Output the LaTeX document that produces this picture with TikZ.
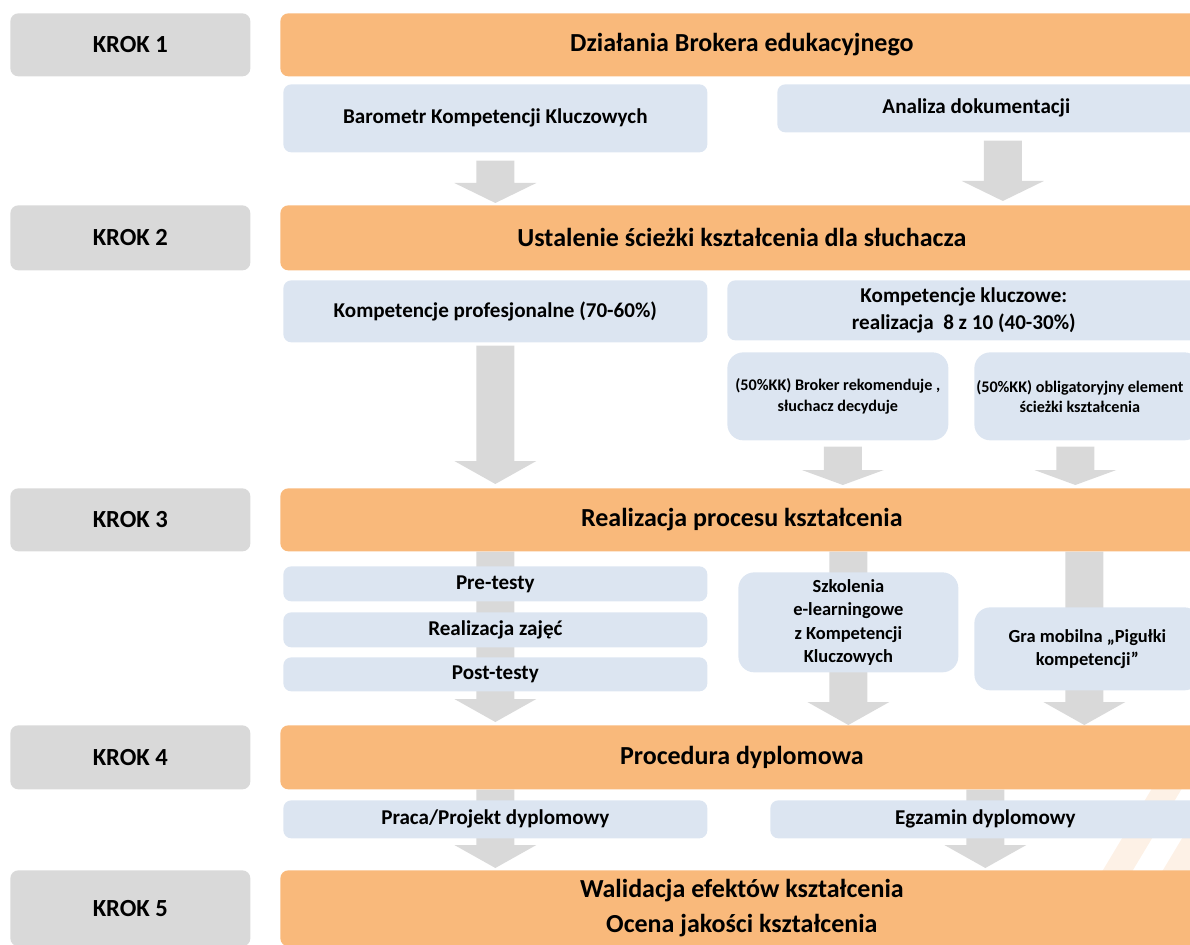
\documentclass[tikz,border=0pt]{standalone}
\usepackage{fontspec}
\setmainfont{Carlito}
\usetikzlibrary{calc}
\pgfdeclarelayer{edgelayer}
\pgfsetlayers{edgelayer,main}
\definecolor{krokgray}{HTML}{D9D9D9}
\definecolor{etaporange}{HTML}{F9B97B}
\definecolor{zadblue}{HTML}{DCE5F1}
\definecolor{strzalka}{HTML}{D9D9D9}
\definecolor{znak}{HTML}{FDF1E6}
\tikzset{
  w/.style={minimum width=#1*0.02cm},
  h/.style={minimum height=#1*0.02cm},
  krok/.style={anchor=north west, fill=krokgray, rounded corners=0.16cm, inner sep=0pt, font=\fontsize{14}{17}\selectfont\bfseries},
  etap/.style={anchor=north west, fill=etaporange, rounded corners=0.16cm, inner sep=0pt, align=center, font=\fontsize{14.8}{20}\selectfont\bfseries},
  zadanie/.style={anchor=north west, fill=zadblue, rounded corners=0.16cm, inner sep=0pt, align=center, font=\fontsize{12}{15}\selectfont\bfseries},
  opcja/.style={zadanie, rounded corners=0.32cm, font=\fontsize{9.2}{11.5}\selectfont\bfseries},
  wiecej/.style={font=\fontsize{10.5}{13.3}\selectfont\bfseries},
}
% szara strzalka blokowa: [dlugosc grotu]{poczatek}{koniec}
\newcommand{\strzalka}[3][0.46cm]{%
  \path [fill=strzalka] let \p1=(#2), \p2=(#3) in
    (\x1-0.38cm,\y1) -- (\x1+0.38cm,\y1) -- (\x1+0.38cm,\y2+#1) -- (\x1+0.82cm,\y2+#1)
    -- (\x1,\y2) -- (\x1-0.82cm,\y2+#1) -- (\x1-0.38cm,\y2+#1) -- cycle;}

\begin{document}
\begin{tikzpicture}[x=0.02cm, y=-0.02cm]
\useasboundingbox (0,0) rectangle (1190,945);
\clip (0,0) rectangle (1190,945);
% kroki
\node [krok, w=240, h=63] (krok1) at (10,13) {KROK 1};
\node [krok, w=240, h=65] (krok2) at (10,205) {KROK 2};
\node [krok, w=240, h=63] (krok3) at (10,488) {KROK 3};
\node [krok, w=240, h=64] (krok4) at (10,725) {KROK 4};
\node [krok, w=240, h=76] (krok5) at (10,870) {KROK 5};
% etapy
\node [etap, w=923, h=63] (broker) at (280,13) {Działania Brokera edukacyjnego};
\node [etap, w=923, h=65] (sciezka) at (280,205) {Ustalenie ścieżki kształcenia dla słuchacza};
\node [etap, w=923, h=63] (proces) at (280,488) {Realizacja procesu kształcenia};
\node [etap, w=923, h=64] (dyplom) at (280,725) {Procedura dyplomowa};
\node [etap, w=923, h=76] (walidacja) at (280,870) {Walidacja efektów kształcenia\\Ocena jakości kształcenia};
% zadania
\node [zadanie, w=424, h=68] (barometr) at (283,84) {Barometr Kompetencji Kluczowych};
\node [zadanie, w=423, h=48] (analiza) at (777,84) {\hspace*{-0.5cm}Analiza dokumentacji};
\node [zadanie, w=424, h=62] (profesj) at (283,280) {Kompetencje profesjonalne (70-60\%)};
\node [zadanie, w=473, h=60] (kluczowe) at (727,280) {Kompetencje kluczowe:\\realizacja~ 8 z 10 (40-30\%)};
\node [opcja, w=221, h=88] (rekom) at (727,352) {(50\%KK) Broker rekomenduje ,\\ słuchacz decyduje};
\node [opcja, w=226, h=88] (oblig) at (974,352) {\hspace*{-0.3cm}(50\%KK) obligatoryjny element\\\hspace*{-0.3cm}ścieżki kształcenia};
\node [zadanie, w=424, h=35] (pretesty) at (283,566) {Pre-testy};
\node [zadanie, w=424, h=35] (zajecia) at (283,612) {Realizacja zajęć};
\node [zadanie, w=424, h=34] (posttesty) at (283,657) {Post-testy};
\node [opcja, wiecej, w=220, h=100] (elearning) at (738,572) {Szkolenia\\e-learningowe\\z Kompetencji\\Kluczowych};
\node [opcja, wiecej, w=226, h=83] (gra) at (974,607) {Gra mobilna „Pigułki\\kompetencji”};
\node [zadanie, w=424, h=38] (praca) at (283,800) {Praca/Projekt dyplomowy};
\node [zadanie, w=430, h=38] (egzamin) at (770,800) {Egzamin dyplomowy};

\begin{pgfonlayer}{edgelayer}
\clip (0,0) rectangle (1190,945);
% znak wodny
\fill [znak] (1058,945) -- (1088,945) -- (1247,680) -- (1217,680) -- cycle;
\fill [znak] (1118,945) -- (1148,945) -- (1307,680) -- (1277,680) -- cycle;
% strzalki
\strzalka[0.4cm]{$(barometr.south)+(0,8)$}{$(barometr.south |- sciezka.north)+(0,-2)$}
\strzalka[0.4cm]{$(analiza.south)+(14,8)$}{$(analiza.south |- sciezka.north)+(14,-4)$}
\strzalka{$(profesj.south)+(0,3)$}{$(profesj.south |- proces.north)+(0,-4)$}
\strzalka[0.3cm]{$(rekom.south)+(5,6)$}{$(rekom.south |- proces.north)+(5,-3)$}
\strzalka[0.3cm]{$(oblig.south)+(-12,6)$}{$(oblig.south |- proces.north)+(-12,-3)$}
\strzalka{pretesty.north |- proces.south}{$(pretesty.north |- dyplom.north)+(0,-3)$}
\strzalka{elearning.north |- proces.south}{elearning.north |- dyplom.north}
\strzalka{$(gra.north |- proces.south)+(-3,0)$}{$(gra.north |- dyplom.north)+(-3,0)$}
\strzalka{praca.north |- dyplom.south}{$(praca.north |- walidacja.north)+(0,-2)$}
\strzalka{egzamin.north |- dyplom.south}{$(egzamin.north |- walidacja.north)+(0,-2)$}
\end{pgfonlayer}
\end{tikzpicture}
\end{document}
